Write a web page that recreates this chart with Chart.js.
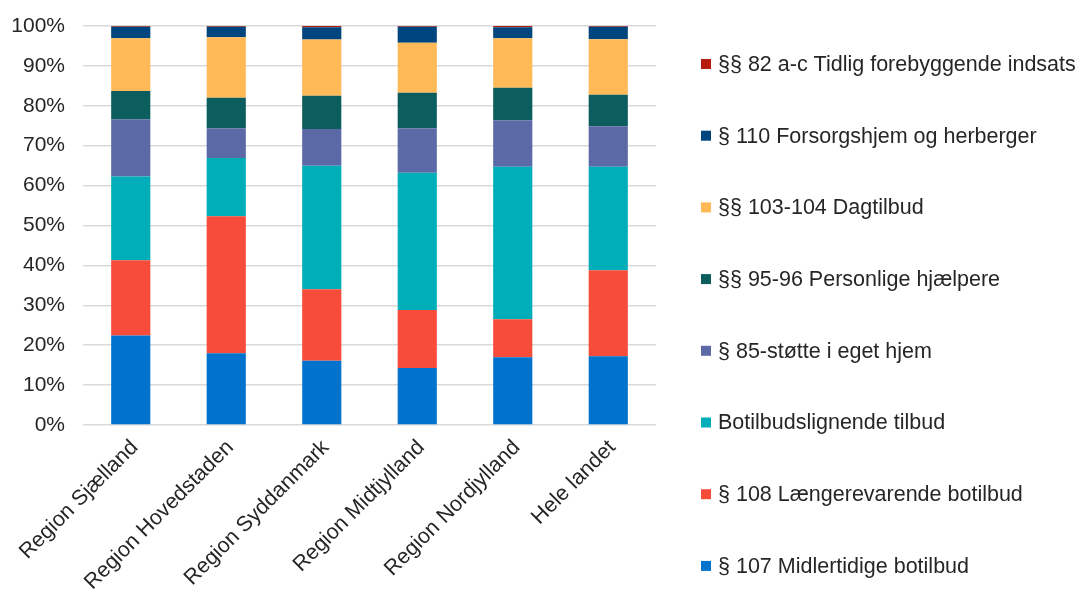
<!DOCTYPE html>
<html>
<head>
<meta charset="utf-8">
<script src="https://cdn.jsdelivr.net/npm/chart.js@4.4.1/dist/chart.umd.min.js"></script>
<style>
  body { margin: 0; background: #fff; }
  #wrap { width: 1078px; height: 590px; position: relative; }
</style>
</head>
<body>
<div id="wrap"><canvas id="chart" width="1078" height="590"></canvas></div>
<script>
// kategorier (x-aksen)
const regioner = ['Region Sjælland', 'Region Hovedstaden', 'Region Syddanmark', 'Region Midtjylland', 'Region Nordjylland', 'Hele landet'];

// andele i procent, nederst i søjlen først
const midlertidige107 = [22.4, 18.0, 16.1, 14.3, 17.0, 17.2];
const laengerevarende108 = [18.9, 34.3, 17.9, 14.5, 9.5, 21.6];
const botilbudslignende = [21.0, 14.6, 31.0, 34.4, 38.2, 25.9];
const stoette85 = [14.3, 7.5, 9.2, 11.2, 11.7, 10.2];
const personlige9596 = [7.1, 7.6, 8.3, 8.9, 8.1, 7.9];
const dagtilbud103 = [13.2, 15.2, 14.1, 12.5, 12.4, 13.9];
const forsorg110 = [2.9, 2.6, 3.1, 4.0, 2.8, 3.1];
const tidlig82 = [0.2, 0.2, 0.3, 0.2, 0.3, 0.2];

const yTicks = [0, 10, 20, 30, 40, 50, 60, 70, 80, 90, 100];

const serier = [
  { label: '§ 107 Midlertidige botilbud', data: midlertidige107, color: '#0173CC' },
  { label: '§ 108 Længerevarende botilbud', data: laengerevarende108, color: '#F84C3B' },
  { label: 'Botilbudslignende tilbud', data: botilbudslignende, color: '#00AEB9' },
  { label: '§ 85-støtte i eget hjem', data: stoette85, color: '#5B6AA7' },
  { label: '§§ 95-96 Personlige hjælpere', data: personlige9596, color: '#0B5D5E' },
  { label: '§§ 103-104 Dagtilbud', data: dagtilbud103, color: '#FFB956' },
  { label: '§ 110 Forsorgshjem og herberger', data: forsorg110, color: '#00467E' },
  { label: '§§ 82 a-c Tidlig forebyggende indsats', data: tidlig82, color: '#B81A0B' }
];

const fontFamily = '"Liberation Sans", Arial, sans-serif';
const tekstFarve = '#262626';

// egen legende til højre (øverste serie først)
const hoejreLegende = {
  id: 'hoejreLegende',
  afterDraw(chart) {
    const ctx = chart.ctx;
    const ds = chart.data.datasets;
    ctx.save();
    ctx.font = '21.5px ' + fontFamily;
    ctx.textBaseline = 'middle';
    ctx.textAlign = 'left';
    for (let i = 0; i < ds.length; i++) {
      const d = ds[ds.length - 1 - i];
      const y = 64 + i * 71.7;
      ctx.fillStyle = d.backgroundColor;
      ctx.fillRect(701, y - 5, 10, 10);
      ctx.fillStyle = tekstFarve;
      ctx.fillText(d.label, 718, y + 1);
    }
    ctx.restore();
  }
};

const ctx = document.getElementById('chart').getContext('2d');
new Chart(ctx, {
  type: 'bar',
  data: {
    labels: regioner,
    datasets: serier.map(s => ({
      label: s.label,
      data: s.data,
      backgroundColor: s.color,
      borderWidth: 0,
      categoryPercentage: 0.82,
      barPercentage: 0.5
    }))
  },
  options: {
    responsive: false,
    animation: false,
    layout: { padding: { top: 26, right: 422, left: 0, bottom: 0 } },
    plugins: {
      legend: { display: false },
      tooltip: { enabled: false }
    },
    scales: {
      x: {
        stacked: true,
        grid: { display: false },
        border: { display: false },
        ticks: {
          color: tekstFarve,
          font: { size: 21.5, family: fontFamily },
          maxRotation: 45,
          minRotation: 45,
          padding: 2,
          labelOffset: 4
        },
        afterFit(scale) { scale.height = 165; }
      },
      y: {
        stacked: true,
        min: 0,
        max: 100,
        afterBuildTicks(scale) { scale.ticks = yTicks.map(v => ({ value: v })); },
        grid: { color: '#D9D9D9', lineWidth: 1.5, drawTicks: false },
        border: { display: false },
        ticks: {
          color: tekstFarve,
          font: { size: 21, family: fontFamily },
          padding: 18,
          callback: v => v + '%'
        },
        afterFit(scale) {
          scale.width = 83;
          scale.paddingTop = 0;
          scale.paddingBottom = 0;
        }
      }
    }
  },
  plugins: [hoejreLegende]
});
</script>
</body>
</html>
